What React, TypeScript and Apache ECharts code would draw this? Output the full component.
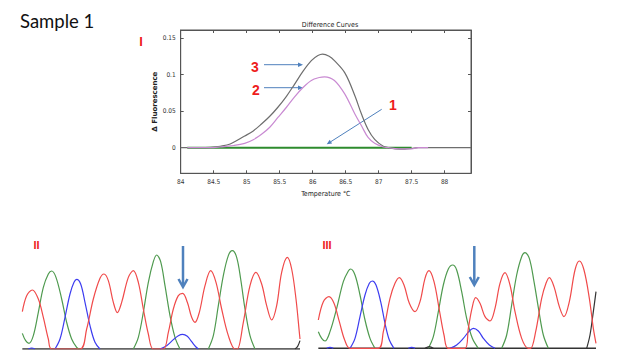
import React, { useEffect, useRef } from "react";
import * as echarts from "echarts";

// ---- Panel I: difference (melt) curves, [temperature °C, Δ fluorescence] ----
const curve3: [number, number][] = [
  [84.0, 0], [84.3, 0], [84.45, 0.0005], [84.6, 0.002], [84.75, 0.005], [84.97, 0.016],
  [85.1, 0.023], [85.22, 0.032], [85.35, 0.043], [85.47, 0.055], [85.6, 0.07], [85.72, 0.086],
  [85.85, 0.104], [85.98, 0.119], [86.08, 0.126], [86.15, 0.128], [86.25, 0.125], [86.33, 0.119],
  [86.49, 0.102], [86.64, 0.071], [86.74, 0.046], [86.84, 0.025], [86.94, 0.0115], [87.07, 0.002],
  [87.15, 0], [87.25, -0.0015], [87.4, -0.002], [87.5, -0.001], [87.6, 0], [88.4, 0],
];
const curve2: [number, number][] = [
  [84.1, 0], [84.45, 0], [84.6, 0.001], [84.8, 0.003], [84.97, 0.006], [85.1, 0.011],
  [85.22, 0.018], [85.35, 0.028], [85.47, 0.041], [85.6, 0.055], [85.72, 0.069], [85.85, 0.082],
  [85.98, 0.092], [86.1, 0.096], [86.18, 0.097], [86.33, 0.092], [86.49, 0.073], [86.64, 0.046],
  [86.74, 0.03], [86.84, 0.014], [86.94, 0.006], [87.07, 0.001], [87.15, 0], [87.3, -0.0015],
  [87.5, -0.0015], [87.6, 0], [87.75, 0],
];
const curve1: [number, number][] = [[84.1, 0], [87.5, 0]];
const tempTicks = [84, 84.5, 85, 85.5, 86, 86.5, 87, 87.5, 88];
const fluorTicks = [0, 0.05, 0.1, 0.15];

// ---- Panel II chromatogram: [position, signal height] ----
const redII: [number, number][] = [
  [67, 112], [80, 160], [97, 177], [115, 150], [130, 95], [145, 30], [155, 0], [240, 0],
  [260, 60], [280, 150], [300, 212], [312, 225], [325, 205], [340, 140], [352, 109], [365, 140],
  [385, 215], [400, 235], [415, 200], [430, 120], [445, 45], [460, 0], [490, 0], [505, 50],
  [520, 120], [535, 160], [548, 167], [562, 140], [575, 95], [585, 80], [598, 110], [615, 190],
  [632, 235], [648, 200], [665, 120], [685, 40], [705, 0], [712, 0], [730, 80], [750, 190],
  [768, 230], [785, 195], [800, 130], [815, 87], [830, 130], [845, 230], [862, 275], [875, 240],
  [888, 150], [898, 50], [900, 30],
];
const greenII: [number, number][][] = [
  [[67, 47], [77, 25], [87, 17], [100, 40], [115, 110], [130, 185], [145, 225], [155, 234],
    [168, 215], [185, 150], [200, 80], [215, 30], [230, 5], [238, 0]],
  [[400, 0], [415, 35], [430, 110], [445, 200], [460, 262], [470, 282], [482, 262], [495, 190],
    [510, 100], [525, 35], [540, 0]],
  [[625, 0], [640, 40], [655, 130], [670, 220], [685, 280], [697, 295], [710, 275], [722, 210],
    [735, 120], [750, 40], [765, 0]],
];
const blueII: [number, number][][] = [
  [[85, 0], [95, 3], [105, 0]],
  [[165, 0], [180, 30], [195, 95], [210, 165], [222, 200], [230, 209], [242, 195], [255, 140],
    [270, 70], [285, 20], [300, 0]],
  [[480, 0], [500, 10], [520, 28], [535, 40], [548, 44], [562, 38], [575, 22], [588, 6], [595, 0]],
];
const blackII: [number, number][][] = [[[885, 0], [893, 8], [900, 25]]];
const baseII: [number, number][] = [[67, 0], [900, 0]];

// ---- Panel III chromatogram ----
const redIII: [number, number][] = [
  [25, 85], [40, 140], [57, 155], [72, 135], [88, 80], [104, 25], [120, 0], [205, 0],
  [220, 50], [240, 150], [255, 195], [268, 212], [282, 190], [298, 135], [315, 110], [330, 140],
  [345, 210], [357, 233], [372, 200], [388, 115], [402, 40], [415, 0], [465, 0], [475, 60],
  [486, 120], [497, 152], [510, 135], [525, 95], [540, 82], [555, 120], [570, 195], [585, 227],
  [600, 190], [615, 110], [635, 30], [655, 0], [662, 0], [677, 50], [695, 150], [708, 195],
  [718, 212], [732, 185], [748, 125], [762, 95], [778, 140], [795, 235], [808, 262], [822, 235],
  [838, 150], [850, 60], [858, 15],
];
const greenIII: [number, number][][] = [
  [[25, 50], [35, 30], [45, 22], [60, 50], [80, 120], [100, 200], [115, 232], [122, 238],
    [135, 220], [150, 160], [165, 85], [180, 30], [195, 0]],
  [[355, 0], [370, 35], [385, 110], [400, 190], [415, 238], [428, 250], [440, 235], [455, 170],
    [470, 90], [487, 30], [505, 0]],
  [[575, 0], [590, 40], [605, 130], [620, 220], [635, 275], [645, 287], [658, 270], [672, 200],
    [687, 110], [700, 40], [715, 0]],
];
const blueIII: [number, number][][] = [
  [[50, 0], [60, 3], [70, 0]],
  [[120, 0], [135, 30], [150, 95], [165, 160], [178, 195], [187, 202], [198, 190], [212, 140],
    [225, 75], [238, 25], [252, 0]],
  [[295, 0], [305, 3], [315, 0]],
  [[420, 0], [440, 10], [460, 30], [478, 52], [490, 60], [505, 52], [520, 30], [538, 10], [555, 0]],
];
const blackIII: [number, number][][] = [
  [[345, 0], [358, 5], [370, 0]],
  [[830, 0], [840, 40], [850, 110], [858, 170]],
];
const baseIII: [number, number][] = [[25, 0], [858, 0]];

const RED = "#f04a4a";
const GREEN = "#4f9a4f";
const BLUE = "#3c3cf0";
const BLACK = "#333333";
const ARROW = "#4f81bd";

function trace(data: [number, number][], color: string, axis: number, width = 1.2, z = 2) {
  return {
    type: "line",
    xAxisIndex: axis,
    yAxisIndex: axis,
    data,
    smooth: 0.35,
    symbol: "none",
    z,
    lineStyle: { color, width },
  };
}

export default function App() {
  const ref = useRef<HTMLDivElement>(null);
  useEffect(() => {
    if (!ref.current) return;
    const chart = echarts.init(ref.current, null, { renderer: "svg" });
    const axisFont = { fontSize: 6.5, color: "#333", fontFamily: "DejaVu Sans Condensed, Liberation Sans Narrow, Arial" };
    const hidden = { show: false };
    const series: any[] = [
      trace(curve3, "#6e6e6e", 0, 1.2, 3),
      trace(curve1, "#2e8b2e", 0, 2, 4),
      trace(curve2, "#c98ad2", 0, 1.2, 5),
      trace(baseII, BLACK, 2, 1.5, 1),
      ...greenII.map((d) => trace(d, GREEN, 2)),
      ...blueII.map((d) => trace(d, BLUE, 2)),
      ...blackII.map((d) => trace(d, BLACK, 2)),
      trace(redII, RED, 2, 1.2, 3),
      trace(baseIII, BLACK, 3, 1.5, 1),
      ...greenIII.map((d) => trace(d, GREEN, 3)),
      ...blueIII.map((d) => trace(d, BLUE, 3)),
      ...blackIII.map((d) => trace(d, BLACK, 3)),
      trace(redIII, RED, 3, 1.2, 3),
    ];
    const lbl = (text: string, x: number, y: number, size: number) => ({
      type: "text",
      x,
      y,
      style: { text, fill: "#ee1c1c", fontSize: size, fontWeight: "bold", fontFamily: "Liberation Sans, Arial", align: "center", verticalAlign: "middle" },
    });
    const thinArrow = (x1: number, y1: number, x2: number, y2: number) => {
      const dx = x2 - x1, dy = y2 - y1;
      const L = Math.hypot(dx, dy);
      const ux = dx / L, uy = dy / L;
      const bx = x2 - ux * 5, by = y2 - uy * 5;
      return {
        type: "group",
        children: [
          { type: "line", shape: { x1, y1, x2: bx, y2: by }, style: { stroke: ARROW, lineWidth: 1 } },
          {
            type: "polygon",
            shape: { points: [[x2, y2], [bx - uy * 2.2, by + ux * 2.2], [bx + uy * 2.2, by - ux * 2.2]] },
            style: { fill: ARROW },
          },
        ],
      };
    };
    const bigArrow = (x: number, y1: number, y2: number) => ({
      type: "group",
      children: [
        { type: "line", shape: { x1: x, y1, x2: x, y2: y2 - 1 }, style: { stroke: ARROW, lineWidth: 2.5 } },
        { type: "polyline", shape: { points: [[x - 4.5, y2 - 8], [x, y2], [x + 4.5, y2 - 8]] }, style: { stroke: ARROW, lineWidth: 2.5, fill: "none" } },
      ],
    });
    const frameLine = { show: true, onZero: false, lineStyle: { color: "#555", width: 1 } };
    chart.setOption({
      animation: false,
      backgroundColor: "#ffffff",
      title: {
        text: "Difference Curves",
        left: 325,
        top: 16,
        textAlign: "center",
        textStyle: { fontSize: 7, fontWeight: "normal", color: "#222", fontFamily: "DejaVu Sans Condensed, Arial" },
      },
      grid: [
        { left: 180.7, top: 30, width: 290.3, height: 143.3, show: true, borderColor: "#555", borderWidth: 1, backgroundColor: "transparent" },
        { left: 20, top: 230, width: 283.33, height: 119 },
        { left: 316.67, top: 230, width: 283.33, height: 118.33 },
      ],
      xAxis: [
        {
          type: "value", gridIndex: 0, min: 84, max: 88.4, position: "bottom",
          axisLine: frameLine,
          axisTick: { show: true, inside: true, length: 3, customValues: tempTicks, lineStyle: { color: "#555" } },
          axisLabel: { ...axisFont, margin: 5, customValues: tempTicks },
          splitLine: hidden,
          name: "Temperature °C", nameLocation: "middle", nameGap: 17,
          nameTextStyle: { fontSize: 7, color: "#222", fontFamily: "DejaVu Sans Condensed, Arial" },
        },
        {
          type: "value", gridIndex: 0, min: 84, max: 88.4, position: "top",
          axisLine: frameLine,
          axisTick: { show: true, inside: true, length: 3, customValues: tempTicks, lineStyle: { color: "#555" } },
          axisLabel: hidden, splitLine: hidden,
        },
        { type: "value", gridIndex: 1, min: 60, max: 910, show: false },
        { type: "value", gridIndex: 2, min: 20, max: 870, show: false },
      ],
      yAxis: [
        {
          type: "value", gridIndex: 0, min: -0.035, max: 0.161, position: "left",
          axisLine: frameLine,
          axisTick: { show: true, inside: true, length: 3, customValues: fluorTicks, lineStyle: { color: "#555" } },
          axisLabel: { ...axisFont, margin: 5, customValues: fluorTicks },
          splitLine: hidden,
          name: "Δ Fluorescence", nameLocation: "middle", nameGap: 16, nameRotate: 90,
          nameTextStyle: { fontSize: 7, fontWeight: "bold", color: "#222", fontFamily: "DejaVu Sans, Arial" },
        },
        {
          type: "value", gridIndex: 0, min: -0.035, max: 0.161, position: "right",
          axisLine: frameLine,
          axisTick: { show: true, inside: true, length: 3, customValues: fluorTicks, lineStyle: { color: "#555" } },
          axisLabel: hidden, splitLine: hidden,
        },
        { type: "value", gridIndex: 1, min: 0, max: 357, show: false },
        { type: "value", gridIndex: 2, min: 0, max: 355, show: false },
      ],
      series,
      graphic: [
        {
          type: "text", x: 20, y: 21,
          style: { text: "Sample 1", fill: "#111", fontSize: 18.5, fontFamily: "Lato, Open Sans, sans-serif", verticalAlign: "middle" },
        },
        lbl("I", 141, 41, 13),
        lbl("3", 255, 67, 14),
        lbl("2", 256, 90, 14),
        lbl("1", 393, 105, 14),
        lbl("II", 36.5, 245, 11),
        lbl("III", 327, 245, 11),
        thinArrow(264, 64.7, 303, 64.7),
        thinArrow(264, 87.7, 303, 87.7),
        thinArrow(381.7, 109.3, 326.7, 144.3),
        bigArrow(183, 246, 287),
        bigArrow(474.3, 246, 285),
      ],
    });
    return () => chart.dispose();
  }, []);
  return <div ref={ref} style={{ position: "fixed", left: 0, top: 0, width: 628, height: 361, background: "#fff" }} />;
}
